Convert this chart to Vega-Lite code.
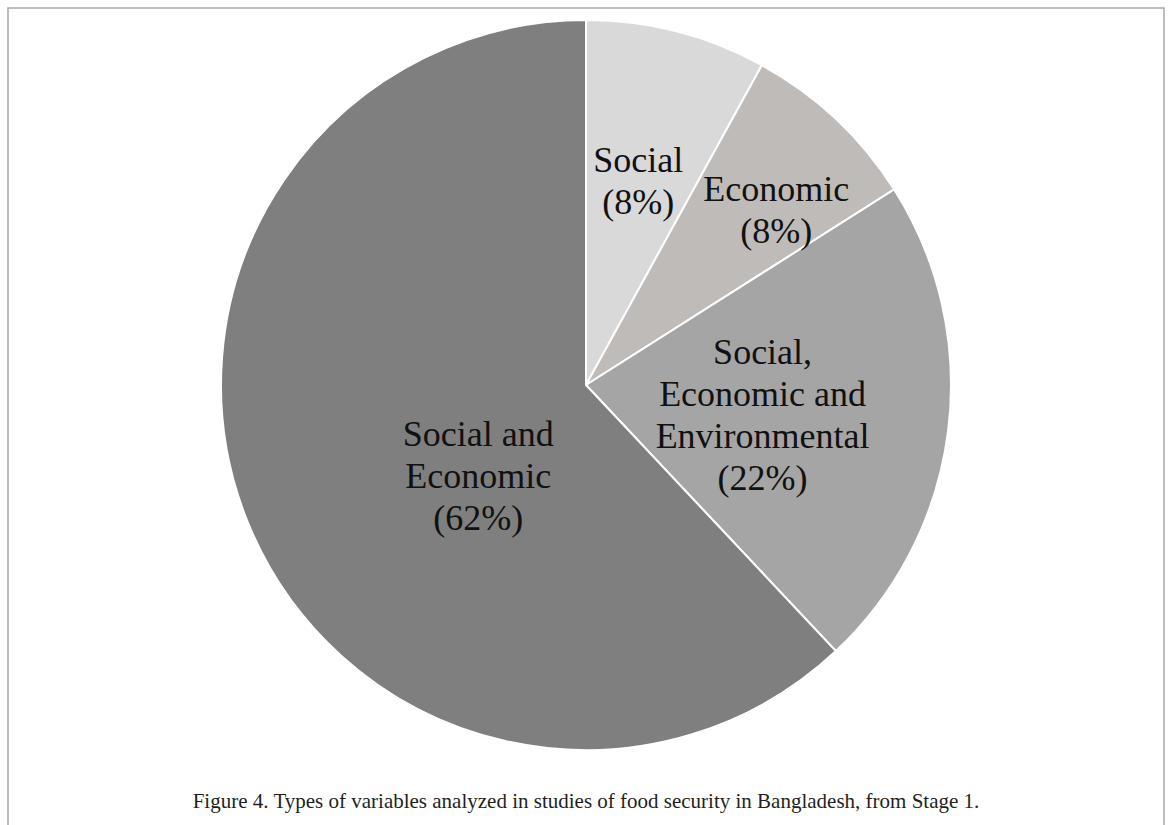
{
  "$schema": "https://vega.github.io/schema/vega-lite/v6.json",
  "width": 1156,
  "height": 754,
  "autosize": {"type": "none"},
  "padding": {"left": 8, "top": 8, "right": 7, "bottom": 63},
  "background": "white",
  "config": {"view": {"stroke": null}},
  "title": {
    "text": "Figure 4. Types of variables analyzed in studies of food security in Bangladesh, from Stage 1.",
    "orient": "bottom",
    "anchor": "middle",
    "frame": "group",
    "offset": -20,
    "baseline": "alphabetic",
    "font": "Liberation Serif",
    "fontSize": 21,
    "fontWeight": "normal",
    "color": "#231f20"
  },
  "datasets": {
    "slices": [
      {"o": 1, "category": "Social", "share": 8, "label": ["Social", "(8%)"]},
      {"o": 2, "category": "Economic", "share": 8, "label": ["Economic", "(8%)"]},
      {"o": 3, "category": "Social, Economic and Environmental", "share": 22, "label": ["Social,", "Economic and", "Environmental", "(22%)"]},
      {"o": 4, "category": "Social and Economic", "share": 62, "label": ["Social and", "Economic", "(62%)"]}
    ],
    "frame": [{"f": 1}]
  },
  "layer": [
    {
      "data": {"name": "frame"},
      "mark": {"type": "rect", "fill": null, "stroke": "#a8a8a8", "strokeWidth": 1.5},
      "encoding": {
        "x": {"value": 0},
        "x2": {"value": 1156},
        "y": {"value": 0},
        "y2": {"value": 819}
      }
    },
    {
      "data": {"name": "slices"},
      "mark": {"type": "arc", "outerRadius": 365, "stroke": "white", "strokeWidth": 2},
      "encoding": {
        "theta": {"field": "share", "type": "quantitative", "stack": true},
        "order": {"field": "o", "type": "ordinal"},
        "color": {
          "field": "category",
          "type": "nominal",
          "legend": null,
          "scale": {
            "domain": ["Social", "Economic", "Social, Economic and Environmental", "Social and Economic"],
            "range": ["#d9d9d9", "#bfbbb8", "#a5a5a5", "#7f7f7f"]
          }
        }
      }
    },
    {
      "data": {"name": "slices"},
      "mark": {
        "type": "text",
        "font": "Liberation Serif",
        "fontSize": 36,
        "lineHeight": 42,
        "color": "#111111",
        "align": "center",
        "baseline": "middle",
        "radius": {"expr": "datum.o == 1 ? 210 : datum.o == 2 ? 278 : datum.o == 3 ? 178 : 145"},
        "dx": {"expr": "datum.o == 4 ? 27 : 0"},
        "dy": {"expr": "datum.o == 1 ? -21 : datum.o == 2 ? 8 : datum.o == 3 ? -54 : -3"}
      },
      "encoding": {
        "theta": {"field": "share", "type": "quantitative", "stack": true},
        "order": {"field": "o", "type": "ordinal"},
        "text": {"field": "label"}
      }
    }
  ]
}
